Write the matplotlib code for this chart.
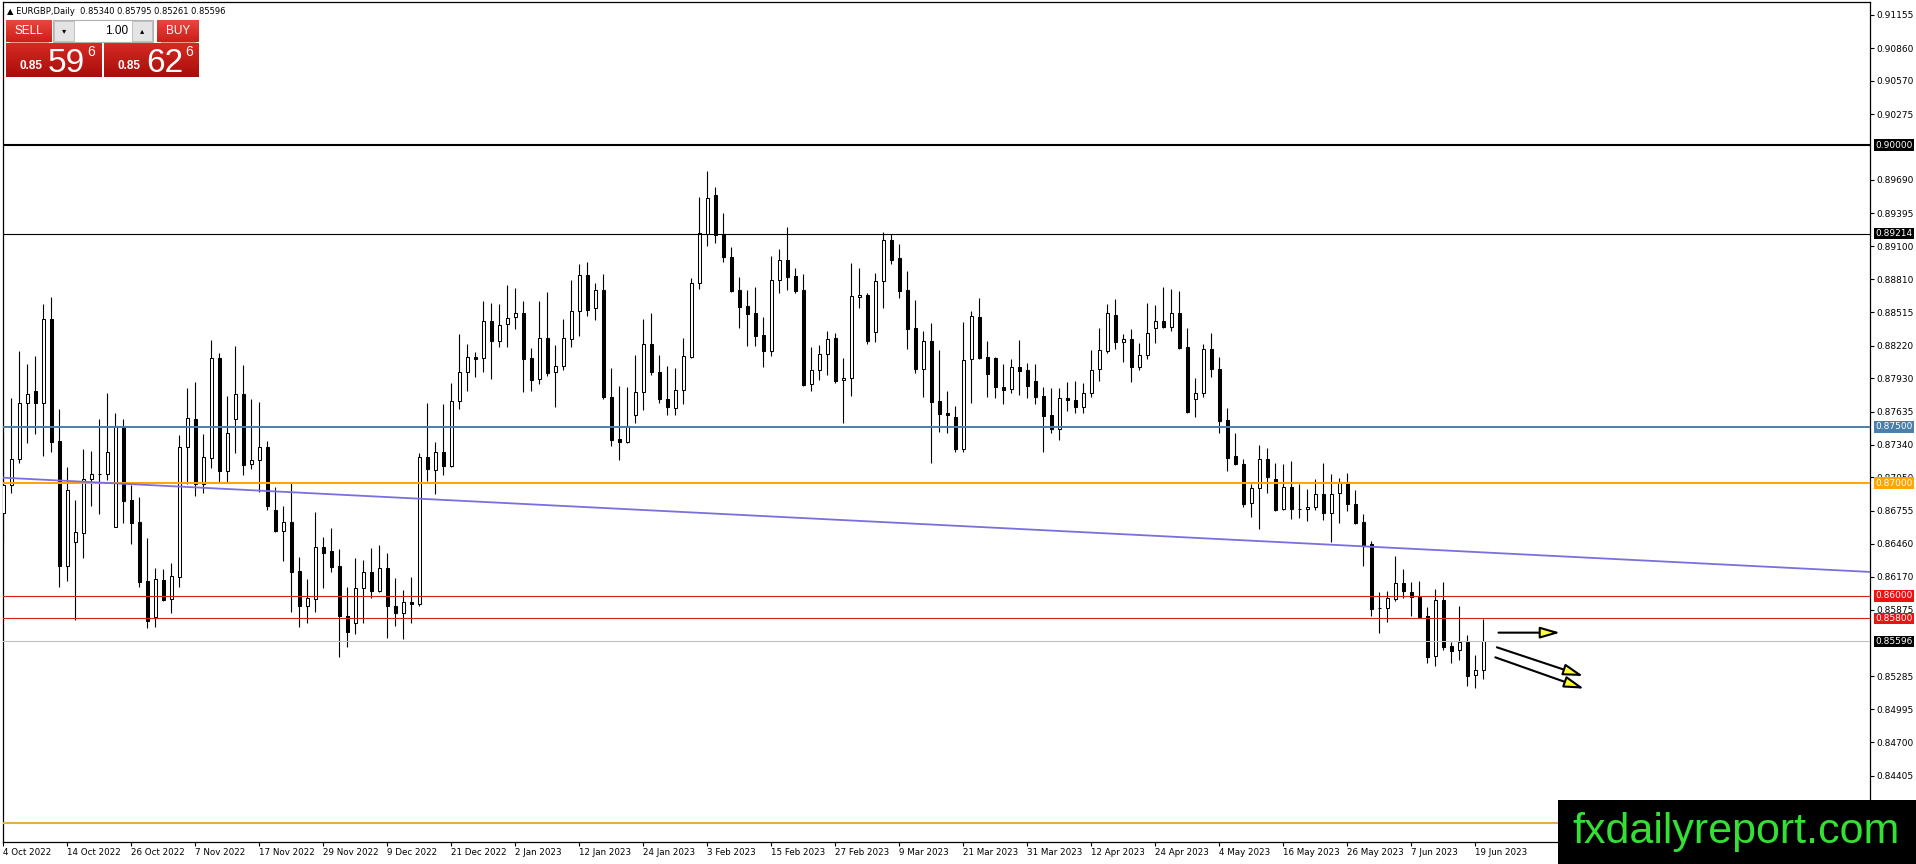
import numpy as np
import matplotlib
matplotlib.use("Agg")
import matplotlib.pyplot as plt
import matplotlib.transforms as mtrans
from matplotlib.patches import Rectangle
from matplotlib.colors import LinearSegmentedColormap

# EURGBP daily bars, 4 Oct 2022 .. 20 Jun 2023
opens = [0.86731, 0.86983, 0.87211, 0.87708, 0.87817, 0.87708, 0.88453, 0.87373, 0.86267, 0.86474,
         0.86554, 0.87033, 0.87078, 0.87078, 0.86607, 0.87500, 0.86850, 0.86655, 0.86131, 0.85809,
         0.86140, 0.85968, 0.86164, 0.87317, 0.87569, 0.86992, 0.87219, 0.88107, 0.87110, 0.87566,
         0.87790, 0.87166, 0.87202, 0.87320, 0.86761, 0.86578, 0.86654, 0.86220, 0.85912, 0.85968,
         0.86430, 0.86397, 0.86264, 0.85820, 0.85755, 0.86066, 0.86208, 0.86045, 0.86243, 0.85909,
         0.85850, 0.85947, 0.85927, 0.87228, 0.87116, 0.87279, 0.87154, 0.87728, 0.87983, 0.88116,
         0.88107, 0.88436, 0.88264, 0.88409, 0.88477, 0.88507, 0.88107, 0.87927, 0.88285, 0.87989,
         0.88042, 0.88279, 0.88530, 0.88844, 0.88557, 0.88711, 0.87761, 0.87388, 0.87368, 0.87604,
         0.87806, 0.88234, 0.87989, 0.87746, 0.87664, 0.87826, 0.88116, 0.88773, 0.89208, 0.89557,
         0.89207, 0.89003, 0.88713, 0.88571, 0.88506, 0.88314, 0.88175, 0.88799, 0.88977, 0.88838,
         0.88713, 0.87876, 0.88000, 0.88148, 0.88284, 0.87912, 0.87935, 0.88648, 0.88666, 0.88338,
         0.88793, 0.89154, 0.88994, 0.88713, 0.88376, 0.88009, 0.88261, 0.87728, 0.87625, 0.87583,
         0.87299, 0.88098, 0.88471, 0.88116, 0.88110, 0.87853, 0.87832, 0.88027, 0.88004, 0.87903,
         0.87773, 0.87604, 0.87477, 0.87755, 0.87737, 0.87678, 0.87797, 0.88010, 0.88175, 0.88492,
         0.88255, 0.88279, 0.88033, 0.88134, 0.88373, 0.88438, 0.88382, 0.88512, 0.88208, 0.87743,
         0.87796, 0.88187, 0.88009, 0.87560, 0.87240, 0.87169, 0.86820, 0.86953, 0.87211, 0.87033,
         0.86767, 0.86968, 0.86770, 0.86767, 0.86791, 0.86903, 0.86731, 0.86909, 0.87012, 0.86814,
         0.86654, 0.86456, 0.85894, 0.85888, 0.85968, 0.86113, 0.86030, 0.85992, 0.85820, 0.85468,
         0.85963, 0.85552, 0.85516, 0.85590, 0.85294, 0.85340]
highs = [0.87441, 0.87752, 0.88172, 0.88057, 0.88128, 0.88589, 0.88648, 0.87654, 0.87140, 0.86850,
         0.87302, 0.87285, 0.87569, 0.87796, 0.87619, 0.87569, 0.86983, 0.86873, 0.86515, 0.86243,
         0.86234, 0.86288, 0.87427, 0.87847, 0.87894, 0.87435, 0.88270, 0.88157, 0.87773, 0.88216,
         0.88048, 0.87746, 0.87719, 0.87376, 0.86968, 0.86796, 0.86998, 0.86341, 0.86149, 0.86743,
         0.86518, 0.86598, 0.86412, 0.86081, 0.86338, 0.86317, 0.86421, 0.86450, 0.86376, 0.86160,
         0.86051, 0.86163, 0.87270, 0.87713, 0.87367, 0.87702, 0.87891, 0.88323, 0.88234, 0.88160,
         0.88619, 0.88595, 0.88589, 0.88758, 0.88734, 0.88616, 0.88196, 0.88616, 0.88693, 0.88226,
         0.88456, 0.88802, 0.88944, 0.88959, 0.88773, 0.88856, 0.88019, 0.87862, 0.87850, 0.88137,
         0.88456, 0.88507, 0.88137, 0.88039, 0.88019, 0.88285, 0.88823, 0.89536, 0.89770, 0.89625,
         0.89394, 0.89098, 0.88826, 0.88713, 0.88737, 0.88471, 0.89015, 0.89074, 0.89275, 0.88906,
         0.88855, 0.88210, 0.88225, 0.88350, 0.88335, 0.88107, 0.88950, 0.88906, 0.88690, 0.88867,
         0.89231, 0.89210, 0.89119, 0.88882, 0.88625, 0.88350, 0.88418, 0.88181, 0.87820, 0.87684,
         0.88430, 0.88527, 0.88640, 0.88264, 0.88120, 0.88057, 0.88101, 0.88270, 0.88063, 0.88054,
         0.87850, 0.87847, 0.87847, 0.87894, 0.87906, 0.87885, 0.88181, 0.88373, 0.88589, 0.88634,
         0.88323, 0.88364, 0.88240, 0.88601, 0.88580, 0.88737, 0.88722, 0.88708, 0.88373, 0.87930,
         0.88234, 0.88329, 0.88116, 0.87663, 0.87441, 0.87211, 0.86992, 0.87338, 0.87314, 0.87175,
         0.87169, 0.87196, 0.86992, 0.86947, 0.87033, 0.87175, 0.87080, 0.87042, 0.87086, 0.86938,
         0.86725, 0.86486, 0.86036, 0.86045, 0.86353, 0.86237, 0.86125, 0.86131, 0.85897, 0.86057,
         0.86125, 0.85593, 0.85910, 0.85652, 0.85475, 0.85795]
lows = [0.86480, 0.86909, 0.87175, 0.87353, 0.87435, 0.87243, 0.87279, 0.86081, 0.86134, 0.85785,
        0.86332, 0.86799, 0.86725, 0.87027, 0.86607, 0.86643, 0.86456, 0.86081, 0.85711, 0.85720,
        0.85956, 0.85844, 0.86075, 0.86992, 0.86888, 0.86909, 0.87137, 0.87006, 0.87012, 0.87264,
        0.87072, 0.87122, 0.86924, 0.86761, 0.86569, 0.86311, 0.85859, 0.85720, 0.85761, 0.85859,
        0.86066, 0.86208, 0.85459, 0.85548, 0.85658, 0.85755, 0.85977, 0.86036, 0.85622, 0.85735,
        0.85613, 0.85755, 0.85912, 0.87021, 0.86900, 0.87072, 0.87140, 0.87654, 0.87820, 0.87938,
        0.87989, 0.87924, 0.88211, 0.88211, 0.88368, 0.87811, 0.87820, 0.87877, 0.87950, 0.87678,
        0.88004, 0.88205, 0.88308, 0.88486, 0.88447, 0.87743, 0.87332, 0.87205, 0.87359, 0.87536,
        0.87649, 0.87959, 0.87708, 0.87604, 0.87604, 0.87702, 0.88107, 0.88723, 0.89104, 0.89128,
        0.88965, 0.88700, 0.88373, 0.88219, 0.88219, 0.88033, 0.88131, 0.88684, 0.88713, 0.88690,
        0.87864, 0.87820, 0.87915, 0.87959, 0.87885, 0.87536, 0.87773, 0.88551, 0.88234, 0.88255,
        0.88557, 0.88944, 0.88645, 0.88190, 0.87974, 0.87767, 0.87175, 0.87456, 0.87441, 0.87273,
        0.87273, 0.87708, 0.88104, 0.87761, 0.87752, 0.87699, 0.87797, 0.87785, 0.87758, 0.87699,
        0.87279, 0.87442, 0.87382, 0.87643, 0.87625, 0.87619, 0.87767, 0.87909, 0.88151, 0.88190,
        0.88078, 0.87900, 0.88004, 0.88101, 0.88240, 0.88373, 0.88350, 0.88190, 0.87619, 0.87584,
        0.87767, 0.87944, 0.87441, 0.87110, 0.87160, 0.86785, 0.86702, 0.86592, 0.86915, 0.86755,
        0.86761, 0.86681, 0.86693, 0.86666, 0.86761, 0.86672, 0.86480, 0.86649, 0.86752, 0.86634,
        0.86264, 0.85823, 0.85666, 0.85770, 0.85953, 0.85983, 0.85823, 0.85806, 0.85400, 0.85380,
        0.85519, 0.85401, 0.85430, 0.85203, 0.85179, 0.85261]
closes = [0.86983, 0.87211, 0.87708, 0.87787, 0.87708, 0.88453, 0.87367, 0.86267, 0.86938, 0.86563,
          0.87033, 0.87080, 0.87082, 0.87273, 0.87509, 0.86844, 0.86649, 0.86125, 0.85776, 0.86149,
          0.85962, 0.86175, 0.87317, 0.87574, 0.86992, 0.87228, 0.88107, 0.87110, 0.87441, 0.87787,
          0.87160, 0.87202, 0.87320, 0.86799, 0.86578, 0.86654, 0.86214, 0.85912, 0.85983, 0.86430,
          0.86382, 0.86258, 0.85823, 0.85681, 0.86066, 0.86208, 0.86045, 0.86243, 0.85912, 0.85850,
          0.85947, 0.85924, 0.87228, 0.87122, 0.87279, 0.87154, 0.87728, 0.87983, 0.88116, 0.88098,
          0.88436, 0.88264, 0.88403, 0.88462, 0.88507, 0.88104, 0.87918, 0.88285, 0.87980, 0.88042,
          0.88285, 0.88524, 0.88844, 0.88539, 0.88711, 0.87761, 0.87383, 0.87368, 0.87507, 0.87806,
          0.88234, 0.87989, 0.87743, 0.87678, 0.87826, 0.88128, 0.88773, 0.89216, 0.89527, 0.89202,
          0.89003, 0.88707, 0.88565, 0.88497, 0.88308, 0.88175, 0.88799, 0.88977, 0.88832, 0.88707,
          0.87870, 0.88000, 0.88142, 0.88276, 0.87906, 0.87935, 0.88657, 0.88666, 0.88264, 0.88793,
          0.89154, 0.88980, 0.88707, 0.88370, 0.88009, 0.88261, 0.87722, 0.87610, 0.87607, 0.87299,
          0.88089, 0.88483, 0.88113, 0.87965, 0.87850, 0.87829, 0.88027, 0.87998, 0.87865, 0.87767,
          0.87598, 0.87477, 0.87752, 0.87740, 0.87678, 0.87797, 0.88004, 0.88181, 0.88506, 0.88255,
          0.88279, 0.88033, 0.88134, 0.88329, 0.88438, 0.88388, 0.88512, 0.88202, 0.87634, 0.87797,
          0.88187, 0.88009, 0.87554, 0.87219, 0.87166, 0.86811, 0.86953, 0.87211, 0.87057, 0.86761,
          0.86968, 0.86767, 0.86767, 0.86791, 0.86903, 0.86731, 0.86903, 0.87012, 0.86811, 0.86649,
          0.86441, 0.85885, 0.85888, 0.85980, 0.86113, 0.86042, 0.85986, 0.85814, 0.85459, 0.85959,
          0.85549, 0.85513, 0.85590, 0.85291, 0.85342, 0.85596]

date_labels = ["4 Oct 2022", "14 Oct 2022", "26 Oct 2022", "7 Nov 2022", "17 Nov 2022",
               "29 Nov 2022", "9 Dec 2022", "21 Dec 2022", "2 Jan 2023", "12 Jan 2023",
               "24 Jan 2023", "3 Feb 2023", "15 Feb 2023", "27 Feb 2023", "9 Mar 2023",
               "21 Mar 2023", "31 Mar 2023", "12 Apr 2023", "24 Apr 2023", "4 May 2023",
               "16 May 2023", "26 May 2023", "7 Jun 2023", "19 Jun 2023"]
date_step = 8

price_ticks = [0.91155, 0.90860, 0.90570, 0.90275, 0.89690, 0.89395, 0.89100, 0.88810,
               0.88515, 0.88220, 0.87930, 0.87635, 0.87340, 0.87050, 0.86755, 0.86460,
               0.86170, 0.85875, 0.85285, 0.84995, 0.84700, 0.84405]

# horizontal levels: price, colour, width, label box colour (None = no box)
levels = [
    (0.90000, "black", 1.5, "black"),
    (0.89214, "black", 0.8, "black"),
    (0.87500, "#4a7eab", 1.4, "#4a7eab"),
    (0.87000, "#ffa500", 1.4, "#ffa500"),
    (0.86000, "#d42020", 0.8, "#ee1111"),
    (0.85800, "#d42020", 0.8, "#ee1111"),
    (0.85596, "#c0c0c0", 0.8, "black"),
    (0.83980, "#e2ae45", 1.5, None),
]

trend_x = [0, 233.3]
trend_y = [0.87048, 0.86212]

arrow_x0 = [186.9, 186.7, 186.5]
arrow_y0 = [0.85673, 0.85543, 0.85454]
arrow_x1 = [194.6, 197.5, 197.6]
arrow_y1 = [0.85673, 0.85288, 0.85176]

header = "\u25b2 EURGBP,Daily  0.85340 0.85795 0.85261 0.85596"

W, H = 1916, 864
fig = plt.figure(figsize=(W / 100, H / 100), dpi=100)
fig.patch.set_facecolor("white")

# chart area in pixels: x 2.5..1870, y 2..842
px_l, px_r, px_t, px_b = 2.5, 1870, 2, 842
ax = fig.add_axes([px_l / W, (H - px_b) / H, (px_r - px_l) / W, (px_b - px_t) / H])
ax.set_facecolor("white")

n = len(opens)
x = np.arange(n)
o = np.array(opens)
c = np.array(closes)
hi = np.array(highs)
lo = np.array(lows)
up = c >= o

ax.vlines(x, lo, hi, color="black", linewidth=0.8, zorder=2)
ax.bar(x, np.maximum(np.abs(c - o), 0.00001), bottom=np.minimum(o, c), width=0.45,
       color=np.where(up, "white", "black"), edgecolor="black", linewidth=0.75, zorder=3)

for price, col, lw, box in levels:
    ax.axhline(price, color=col, linewidth=lw, zorder=4)

ax.plot(trend_x, trend_y, color="#7a6fde", linewidth=1.3, zorder=4)

for xa, ya, xb, yb in zip(arrow_x0, arrow_y0, arrow_x1, arrow_y1):
    ax.annotate("", xy=(xb, yb), xytext=(xa, ya),
                arrowprops=dict(arrowstyle="-|>,head_length=1.2,head_width=0.35",
                                fc="#ffff33", ec="black", lw=1.5,
                                shrinkA=0, shrinkB=0, mutation_scale=10),
                zorder=5)

ax.set_xlim((px_l - 3.3) / 8, (px_r - 3.3) / 8)
ax.set_ylim(0.9 - (px_b - 145) / 11270, 0.9 + (145 - px_t) / 11270)

ax.yaxis.tick_right()
ax.set_yticks(price_ticks)
ax.set_yticklabels([f"{p:.5f}" for p in price_ticks])
ax.tick_params(axis="y", length=3, width=0.8, pad=1.5, labelsize=6.5, colors="black")

ax.set_xticks(np.arange(len(date_labels)) * date_step)
ax.set_xticklabels(date_labels, ha="left")
ax.tick_params(axis="x", length=3, width=0.8, pad=1.5, labelsize=6.3)

for s in ax.spines.values():
    s.set_color("black")
    s.set_linewidth(0.9)

# price boxes on the right scale
tr = mtrans.blended_transform_factory(ax.transAxes, ax.transData)
for price, col, lw, box in levels:
    if box is None:
        continue
    ax.text(1 + 5.5 / (px_r - px_l), price, f"{price:.5f}", transform=tr, ha="left", va="center",
            fontsize=6.5, color="white", clip_on=False, zorder=6,
            bbox=dict(boxstyle="square,pad=0.14", fc=box, ec="none"))

# overlay in pixel coordinates for the trade panel and watermark
ov = fig.add_axes([0, 0, 1, 1], zorder=10)
ov.axis("off")

sans = ["Liberation Sans", "DejaVu Sans"]


def grad_rect(x0, y0, x1, y1, top, bot):
    cmap = LinearSegmentedColormap.from_list("g", [top, bot])
    ov.imshow(np.linspace(0, 1, 64).reshape(-1, 1), extent=(x0, x1, y1, y0),
              cmap=cmap, aspect="auto", interpolation="bilinear", zorder=1)


fig.text(7 / W, 1 - 11 / H, header, fontsize=6.0, va="center", ha="left")

# sell / buy panel
grad_rect(6, 20, 52, 42, "#e8473d", "#cc1f1a")
grad_rect(157, 20, 199, 42, "#e8473d", "#cc1f1a")
grad_rect(6, 43, 102, 77, "#d52a22", "#a90d0b")
grad_rect(104, 43, 199, 77, "#d52a22", "#a90d0b")
ov.plot([10, 48], [42, 42], color="#f08080", lw=0.6, zorder=2)
ov.plot([161, 195], [42, 42], color="#f08080", lw=0.6, zorder=2)
ov.add_patch(Rectangle((53, 20), 100, 22, fc="white", ec="#b0b0b0", lw=0.8, zorder=2))
ov.add_patch(Rectangle((54, 21), 20, 20, fc="#e4e4e4", ec="#b8b8b8", lw=0.6, zorder=3))
ov.add_patch(Rectangle((132, 21), 20, 20, fc="#e4e4e4", ec="#b8b8b8", lw=0.6, zorder=3))
ov.text(64, 31, "\u25be", fontsize=6, ha="center", va="center", zorder=4)
ov.text(142, 31, "\u25b4", fontsize=6, ha="center", va="center", zorder=4)
ov.text(128, 31, "1.00", fontsize=8.5, ha="right", va="center", family=sans, zorder=4)
ov.text(29, 31, "SELL", fontsize=8.5, color="white", ha="center", va="center", family=sans, zorder=4)
ov.text(178, 31, "BUY", fontsize=8.5, color="white", ha="center", va="center", family=sans, zorder=4)
for x0, big in [(20, "59"), (118, "62")]:
    ov.text(x0, 69, "0.85", fontsize=8.5, color="white", fontweight="bold", ha="left",
            va="baseline", family=sans, zorder=4)
    ov.text(x0 + 28, 72, big, fontsize=24, color="white", ha="left", va="baseline",
            family=sans, zorder=4)
    ov.text(x0 + 71, 52, "6", fontsize=10, color="white", ha="center", va="center",
            family=sans, zorder=4)

# watermark
ov.add_patch(Rectangle((1558, 800), W - 1558, H - 800, fc="black", ec="none", zorder=5))
ov.text(1736, 832, "fxdailyreport.com", fontsize=31, color="#33e033", ha="center", va="center",
        family=sans, zorder=6)

ov.set_xlim(0, W)
ov.set_ylim(H, 0)

fig.savefig("out.png", dpi=100, facecolor="white")
